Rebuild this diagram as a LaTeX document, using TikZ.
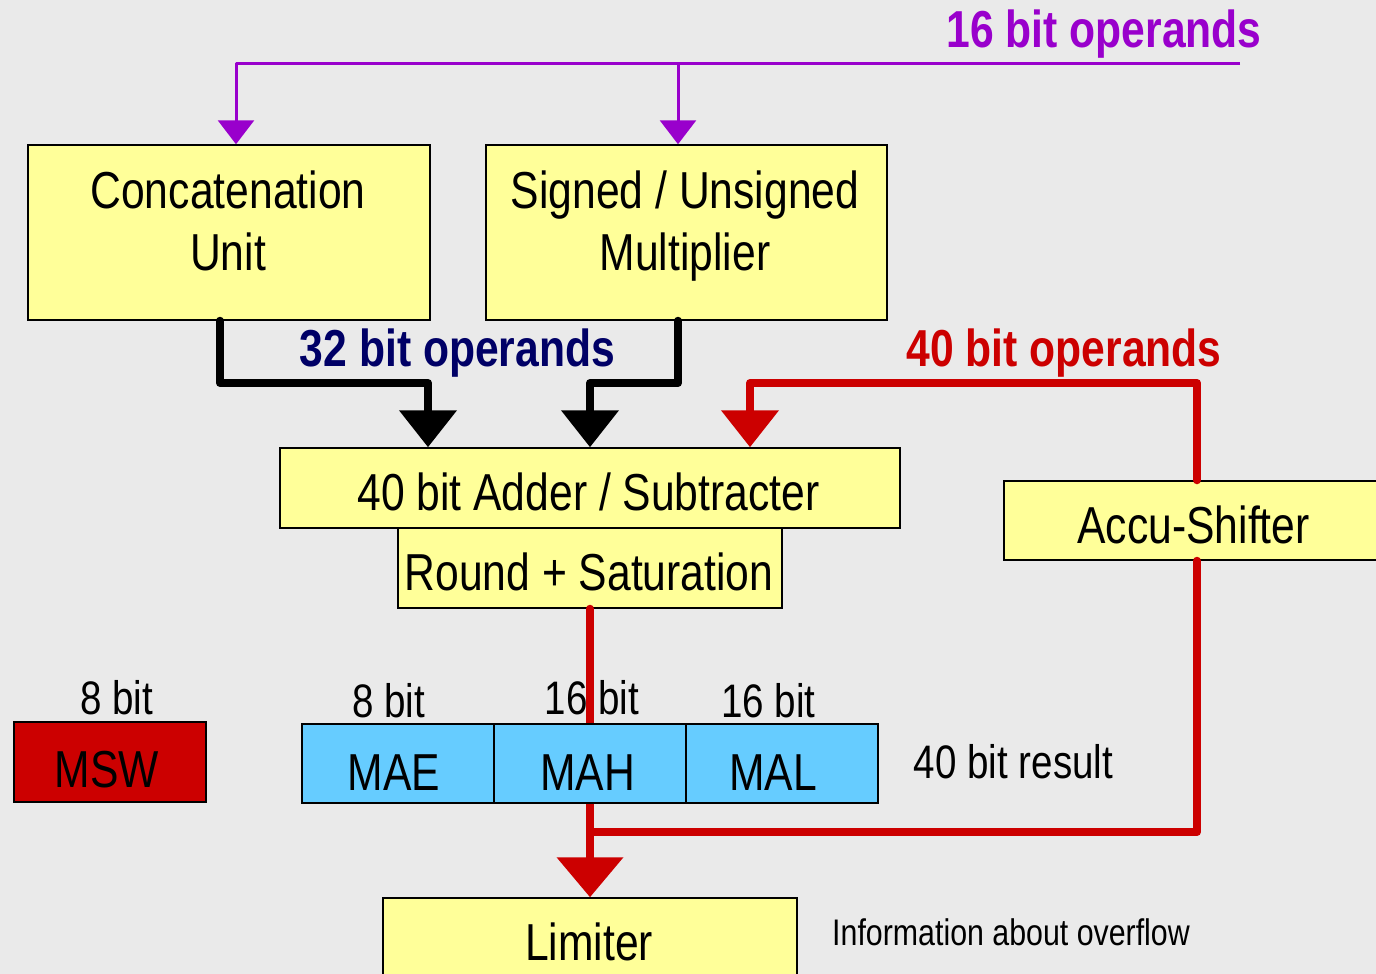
\documentclass[tikz,border=0pt]{standalone}
\usepackage{fontspec}
\setmainfont{Liberation Sans}[FakeStretch=0.82]
\usetikzlibrary{arrows.meta}

\definecolor{bgray}{HTML}{EAEAEA}
\definecolor{unitfill}{HTML}{FFFF99}
\definecolor{regfill}{HTML}{66CCFF}
\definecolor{busred}{HTML}{CC0000}
\definecolor{buspurple}{HTML}{9900CC}
\definecolor{busnavy}{HTML}{000066}

\tikzset{
  unitbox/.style={draw=black, line width=1.5pt, fill=unitfill, inner sep=0pt},
  regbox/.style={draw=black, line width=1.5pt, fill=regfill, inner sep=0pt},
  mswbox/.style={draw=black, line width=1.5pt, fill=busred, inner sep=0pt},
  txt/.style={inner sep=0pt, anchor=base, font=\fontsize{52}{60}\selectfont},
  lbl/.style={inner sep=0pt, anchor=base, font=\fontsize{47}{54}\selectfont},
  small/.style={inner sep=0pt, anchor=base, font=\fontsize{37}{44}\selectfont},
  bustitle/.style={inner sep=0pt, anchor=base, font=\bfseries\fontsize{52}{60}\selectfont},
  thinbus/.style={buspurple, line width=3pt, line join=round,
    -{Triangle[width=36pt,length=24pt]}},
  blackbus/.style={black, line width=8pt, line join=round, line cap=round,
    -{Triangle[width=56pt,length=37pt]}},
  redbus/.style={busred, line width=8pt, line join=round, line cap=round},
}

\begin{document}
\begin{tikzpicture}[x=1pt,y=-1pt]
\fill[bgray] (0,0) rectangle (1376,974);
\useasboundingbox (0,0) rectangle (1376,974);

% functional units
\node[unitbox, minimum width=402pt, minimum height=175pt] (concat) at (229,232.5) {};
\node[unitbox, minimum width=401pt, minimum height=175pt] (mult) at (686.5,232.5) {};
\node[unitbox, minimum width=620pt, minimum height=80pt] (adder) at (590,488) {};
\node[unitbox, minimum width=384pt, minimum height=80pt] (round) at (590,568) {};
\node[unitbox, minimum width=386pt, minimum height=79pt] (accu) at (1197,520.5) {};
\node[unitbox, minimum width=414pt, minimum height=92pt] (limiter) at (590,944) {};

% 16 bit operand bus
\coordinate (p0) at (1240,64);
\coordinate (p1) at (678,64);
\draw[thinbus] (p0) -| ([xshift=7pt]concat.north);
\draw[thinbus] (p1) -- ([xshift=-8.5pt]mult.north);

% 32 bit operand paths
\coordinate (b1) at (428,383);
\coordinate (b2) at (590,383);
\draw[blackbus] ([xshift=-9pt]concat.south) |- (b1) -- ([xshift=-162pt]adder.north);
\draw[blackbus] ([xshift=-8.5pt]mult.south) |- (b2) -- (adder.north);

% 40 bit feedback through the accu shifter
\coordinate (r1) at (750,383);
\coordinate (j) at (590,832);
\draw[redbus, -{Triangle[width=56pt,length=37pt]}] (accu.north) |- (r1) -- ([xshift=160pt]adder.north);
\draw[redbus, -{Triangle[width=65pt,length=40pt]}] (round.south) -- (limiter.north);
\draw[redbus] (accu.south) |- (j);

% accumulator registers
\node[mswbox, minimum width=192pt, minimum height=80pt] (msw) at (110,762) {};
\node[regbox, minimum width=192pt, minimum height=79pt] (mae) at (398,763.5) {};
\node[regbox, minimum width=192pt, minimum height=79pt] (mah) at (590,763.5) {};
\node[regbox, minimum width=192pt, minimum height=79pt] (mal) at (782,763.5) {};

% texts
\node[bustitle, text=buspurple] (t16) at (1104,48) {16 bit operands};
\node[bustitle, text=busnavy] (t32) at (457.5,366) {32 bit operands};
\node[bustitle, text=busred] (t40) at (1064,366) {40 bit operands};

\node[txt] (concatA) at (228,208) {Concatenation};
\node[txt] (concatB) at (228,270) {Unit};
\node[txt] (multA) at (685,208) {Signed / Unsigned};
\node[txt] (multB) at (685,270) {Multiplier};
\node[txt] (adderT) at (588.5,510) {40 bit Adder / Subtracter};
\node[txt] (roundT) at (589,590) {Round + Saturation};
\node[txt] (accuT) at (1193.5,543) {Accu-Shifter};
\node[txt] (limT) at (589,960) {Limiter};

\node[txt] (mswT) at (107,787) {MSW};
\node[txt] (maeT) at (394,790) {MAE};
\node[txt] (mahT) at (587.5,790) {MAH};
\node[txt] (malT) at (773,790) {MAL};

\node[lbl] (w1) at (116.5,714) {8 bit};
\node[lbl] (w2) at (388.5,717) {8 bit};
\node[lbl] (w3) at (592,714) {16 bit};
\node[lbl] (w4) at (768.5,717) {16 bit};
\node[lbl] (res) at (1013.5,778) {40 bit result};
\node[small] (ovf) at (1011,945) {Information about overflow};
\end{tikzpicture}
\end{document}
